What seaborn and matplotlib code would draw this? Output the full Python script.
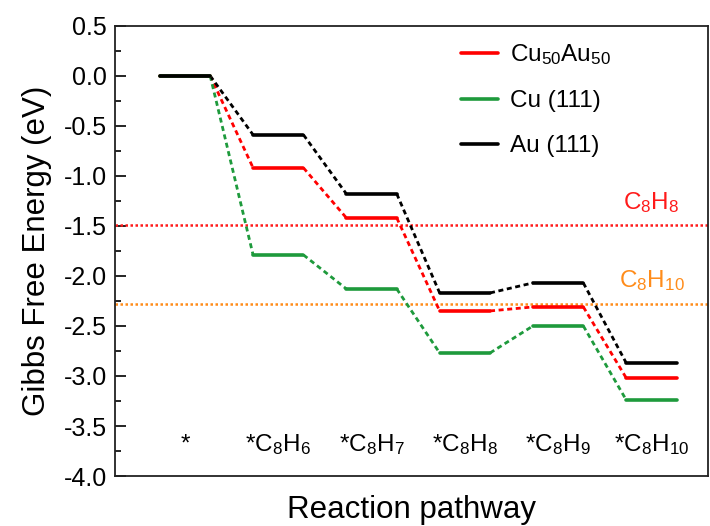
import matplotlib
matplotlib.use("Agg")
import matplotlib.pyplot as plt
from matplotlib.lines import Line2D
from matplotlib.ticker import MultipleLocator, FormatStrFormatter
import pandas as pd
import seaborn as sns

# Reaction intermediates along the hydrogenation pathway
steps = ["*", r"*C$_8$H$_6$", r"*C$_8$H$_7$", r"*C$_8$H$_8$", r"*C$_8$H$_9$", r"*C$_8$H$_{10}$"]

# Gibbs free energies (eV) for each surface
series_names = [r"Cu$_{50}$Au$_{50}$", "Cu (111)", "Au (111)"]
cuau = [0.00, -0.92, -1.42, -2.35, -2.31, -3.02]
cu111 = [0.00, -1.79, -2.13, -2.77, -2.50, -3.24]
au111 = [0.00, -0.59, -1.18, -2.17, -2.07, -2.87]
series_colors = ["#FF0000", "#1E9A3C", "#000000"]

# Gas-phase reference levels
c8h8_level = -1.49
c8h10_level = -2.28

sns.set_style("ticks")
plt.rcParams["font.family"] = ["Liberation Sans", "DejaVu Sans"]
plt.rcParams["mathtext.fontset"] = "custom"
plt.rcParams["mathtext.rm"] = "Liberation Sans"
plt.rcParams["mathtext.it"] = "Liberation Sans"
plt.rcParams["axes.unicode_minus"] = False
plt.rcParams["text.color"] = "black"
plt.rcParams["axes.labelcolor"] = "black"
plt.rcParams["ytick.color"] = "black"
plt.rcParams["xtick.color"] = "black"

half = 0.27
level_rows, link_rows = [], []
for name, vals in zip(series_names, [cuau, cu111, au111]):
    for i, v in enumerate(vals):
        level_rows.append((name, i, i - half, v))
        level_rows.append((name, i, i + half, v))
        if i + 1 < len(vals):
            link_rows.append((name, i, i + half, v))
            link_rows.append((name, i, i + 1 - half, vals[i + 1]))
levels = pd.DataFrame(level_rows, columns=["surface", "seg", "x", "G"])
links = pd.DataFrame(link_rows, columns=["surface", "seg", "x", "G"])
palette = dict(zip(series_names, series_colors))

fig = plt.figure(figsize=(7.10, 5.26), dpi=100)
ax = fig.add_axes([0.162, 0.095, 0.835, 0.856])

ax.axhline(c8h8_level, color="#FF1A1A", ls=(0, (1, 1)), lw=1.8, zorder=1)
ax.axhline(c8h10_level, color="#FF8C1A", ls=(0, (1, 1)), lw=1.8, zorder=1)

sns.lineplot(data=links, x="x", y="G", hue="surface", units="seg", estimator=None,
             sort=False, palette=palette, hue_order=series_names, lw=2.0,
             linestyle=(0, (1.8, 1.3)), legend=False, ax=ax)
sns.lineplot(data=levels, x="x", y="G", hue="surface", units="seg", estimator=None,
             sort=False, palette=palette, hue_order=series_names, lw=2.6,
             legend=False, ax=ax)

for i, lab in enumerate(steps):
    ax.text(i, -3.69, lab, ha="center", va="center", fontsize=17.5)

ax.text(5.0, -1.27, r"C$_8$H$_8$", color="#FF1A1A", ha="center", va="center", fontsize=17.5)
ax.text(5.0, -2.05, r"C$_8$H$_{10}$", color="#FF8C1A", ha="center", va="center", fontsize=17.5)

ax.set_xlim(-0.75, 5.605)
ax.set_ylim(-4.0, 0.5)
ax.set_xticks([])
ax.yaxis.set_major_locator(MultipleLocator(0.5))
ax.yaxis.set_minor_locator(MultipleLocator(0.25))
ax.yaxis.set_major_formatter(FormatStrFormatter("%.1f"))
ax.tick_params(axis="y", which="major", direction="in", length=8, width=1.2, labelsize=18, pad=6)
ax.tick_params(axis="y", which="minor", direction="in", length=4.5, width=1.2)
for sp in ax.spines.values():
    sp.set_linewidth(1.3)
    sp.set_color("#222222")

ax.set_ylabel("Gibbs Free Energy (eV)", fontsize=22.5, labelpad=8)
ax.set_xlabel("Reaction pathway", fontsize=22.5, labelpad=14)

handles = [Line2D([], [], color=c, lw=2.6) for c in series_colors]
ax.legend(handles, series_names, loc="upper left", bbox_to_anchor=(0.547, 1.012),
          frameon=False, fontsize=17.5, handlelength=1.5, labelspacing=0.95,
          handletextpad=0.5)

fig.savefig("out.png", dpi=100)
